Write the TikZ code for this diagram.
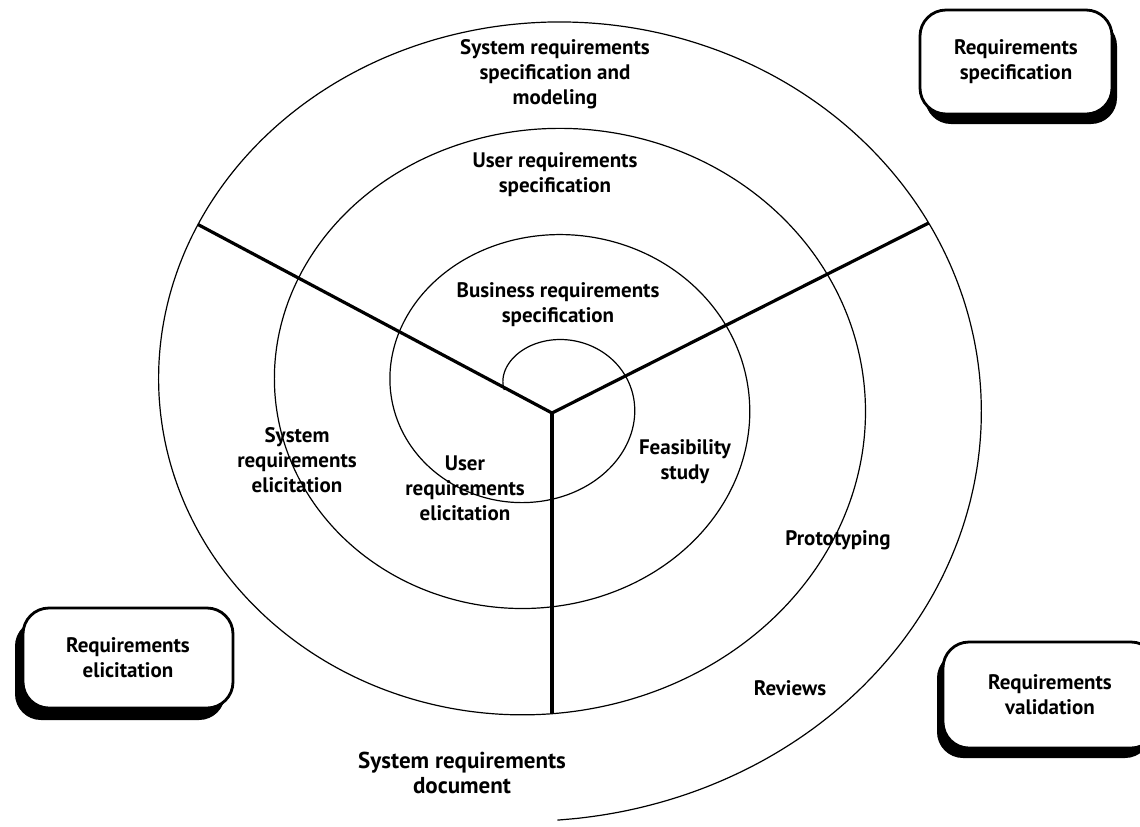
\documentclass[tikz,border=0pt]{standalone}
\usepackage{fontspec}
\setmainfont{PT Sans}
\usepackage{tikz}
\usetikzlibrary{shadows}

\tikzset{
	phasebox/.style={draw=black,line width=1.4pt,fill=white,rounded corners=13pt,
		align=center,font=\fontsize{10.5}{12.5}\selectfont\bfseries,inner sep=2pt},
	lbl/.style={align=center,font=\fontsize{10.5}{12.5}\selectfont\bfseries,inner sep=1pt},
	spoke/.style={draw=black,line width=1.6pt},
	coil/.style={draw=black,line width=0.6pt}
}

\begin{document}
\begin{tikzpicture}[x=0.5pt,y=-0.5pt]
		\clip (0,0) rectangle (1140,826);
		\path[fill=white] (0,0) rectangle (1140,826);
		
		% spiral, clockwise from the centre outwards
		\path[coil] plot[domain=-80:1258,samples=500,smooth,variable=\t]
			({541+(63+0.3222*\t)*sin(\t)},{395-(53+0.296*\t)*cos(\t)});
		
		% spokes
		\coordinate (hub) at (552,413);
		\coordinate (lend) at (198,224.5);
		\coordinate (rend) at (928.7,223);
		\coordinate (dend) at (552,714);
		\path[spoke] (hub) -- (lend);
		\path[spoke] (hub) -- (rend);
		\path[spoke] (hub) -- (dend);
		
		% activities
		\node[lbl] (sysspec) at (555,74) {System requirements\\specification and\\modeling};
		\node[lbl] (userspec) at (555,175) {User requirements\\specification};
		\node[lbl] (busspec) at (558,305) {Business requirements\\specification};
		\node[lbl] (syselic) at (297,460) {System\\requirements\\elicitation};
		\node[lbl] (userelic) at (465,488) {User\\requirements\\elicitation};
		\node[lbl] (feasib) at (685,462) {Feasibility\\study};
		\node[lbl] (proto) at (838,540) {Prototyping};
		\node[lbl] (reviews) at (790,688) {Reviews};
		\node[lbl,font=\fontsize{11.5}{12.5}\selectfont\bfseries] (sysdoc) at (462,773) {System requirements\\document};
		
		% phases
		\node[phasebox,minimum width=96pt,minimum height=52pt,
			drop shadow={shadow xshift=2.5pt,shadow yshift=-5pt,fill=black,opacity=1}]
			(reqspec) at (1016,62) {Requirements\\specification};
		\node[phasebox,minimum width=105pt,minimum height=50pt,
			drop shadow={shadow xshift=-4pt,shadow yshift=-6pt,fill=black,opacity=1}]
			(reqelic) at (128,658) {Requirements\\elicitation};
		\node[phasebox,minimum width=107pt,minimum height=53pt,
			drop shadow={shadow xshift=-3pt,shadow yshift=-5pt,fill=black,opacity=1}]
			(reqvalid) at (1050,695) {Requirements\\validation};
	\end{tikzpicture}
\end{document}
